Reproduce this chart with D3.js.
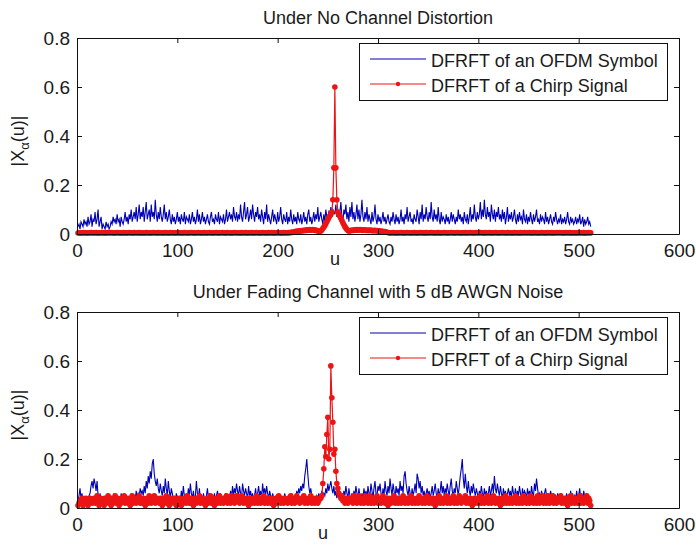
<!DOCTYPE html>
<html>
<head>
<meta charset="utf-8">
<script src="https://cdn.jsdelivr.net/npm/d3@7"></script>
<style>
  body { margin: 0; background: #fff; }
  svg text { font-family: "Liberation Sans", Arial, sans-serif; fill: #1a1a1a; }
</style>
</head>
<body>
<div class="chart"></div>
<script>
// |X_alpha(u)| values, u = 1..512
var topOfdm = [
  0.03,0.04,0.02,0.05,0.04,0.03,0.06,0.04,0.05,0.03,0.07,0.04,0.05,0.08,0.03,0.06,
  0.05,0.09,0.04,0.06,0.10,0.03,0.05,0.07,0.02,0.04,0.03,0.02,0.05,0.03,0.04,0.02,
  0.03,0.05,0.04,0.07,0.05,0.06,0.04,0.08,0.05,0.06,0.03,0.07,0.05,0.04,0.06,0.09,
  0.05,0.07,0.04,0.08,0.06,0.10,0.05,0.07,0.09,0.06,0.11,0.05,0.08,0.12,0.06,0.09,
  0.07,0.11,0.05,0.09,0.13,0.06,0.08,0.10,0.05,0.12,0.07,0.09,0.06,0.14,0.08,0.05,
  0.09,0.06,0.11,0.07,0.05,0.08,0.12,0.06,0.09,0.05,0.07,0.10,0.06,0.04,0.08,0.05,
  0.07,0.04,0.06,0.09,0.05,0.07,0.04,0.08,0.06,0.05,0.09,0.04,0.07,0.06,0.05,0.08,
  0.04,0.06,0.09,0.05,0.07,0.04,0.06,0.10,0.05,0.08,0.04,0.06,0.09,0.05,0.07,0.04,
  0.06,0.08,0.05,0.04,0.07,0.09,0.05,0.06,0.04,0.08,0.06,0.05,0.09,0.04,0.07,0.06,
  0.05,0.08,0.04,0.06,0.10,0.05,0.07,0.09,0.06,0.08,0.05,0.11,0.07,0.06,0.09,0.05,
  0.08,0.06,0.12,0.07,0.05,0.09,0.13,0.06,0.08,0.11,0.05,0.07,0.10,0.06,0.12,0.08,
  0.05,0.09,0.07,0.11,0.06,0.08,0.05,0.10,0.07,0.04,0.09,0.06,0.12,0.05,0.08,0.06,
  0.04,0.07,0.10,0.05,0.08,0.06,0.04,0.09,0.05,0.07,0.11,0.06,0.04,0.08,0.06,0.05,
  0.09,0.04,0.07,0.05,0.10,0.06,0.04,0.08,0.05,0.07,0.04,0.09,0.06,0.05,0.08,0.04,
  0.06,0.09,0.05,0.07,0.04,0.08,0.10,0.05,0.07,0.04,0.06,0.09,0.05,0.08,0.06,0.11,
  0.05,0.07,0.09,0.06,0.04,0.08,0.05,0.10,0.07,0.06,0.09,0.08,0.11,0.07,0.10,0.09,
  0.08,0.12,0.07,0.10,0.06,0.09,0.13,0.07,0.05,0.10,0.08,0.12,0.06,0.09,0.05,0.11,
  0.07,0.13,0.06,0.09,0.05,0.08,0.12,0.06,0.10,0.05,0.08,0.14,0.07,0.05,0.09,0.06,
  0.11,0.05,0.08,0.06,0.04,0.09,0.05,0.07,0.12,0.06,0.04,0.08,0.05,0.07,0.04,0.06,
  0.09,0.05,0.07,0.04,0.06,0.08,0.05,0.04,0.07,0.05,0.09,0.06,0.04,0.08,0.05,0.07,
  0.04,0.06,0.10,0.05,0.07,0.04,0.08,0.06,0.11,0.05,0.07,0.09,0.05,0.06,0.04,0.08,
  0.06,0.05,0.10,0.07,0.04,0.09,0.06,0.12,0.05,0.08,0.06,0.11,0.07,0.05,0.09,0.06,
  0.13,0.07,0.05,0.10,0.06,0.08,0.05,0.11,0.06,0.04,0.09,0.05,0.07,0.06,0.04,0.08,
  0.05,0.07,0.04,0.06,0.09,0.05,0.08,0.06,0.04,0.07,0.05,0.10,0.06,0.08,0.05,0.07,
  0.04,0.09,0.06,0.05,0.08,0.04,0.07,0.11,0.05,0.08,0.06,0.12,0.07,0.05,0.09,0.06,
  0.08,0.13,0.06,0.10,0.07,0.14,0.08,0.06,0.11,0.07,0.09,0.05,0.12,0.08,0.06,0.10,
  0.05,0.09,0.07,0.11,0.06,0.08,0.05,0.10,0.06,0.09,0.04,0.07,0.11,0.05,0.08,0.06,
  0.09,0.05,0.07,0.10,0.06,0.04,0.08,0.05,0.09,0.06,0.07,0.04,0.10,0.06,0.05,0.08,
  0.04,0.07,0.05,0.09,0.06,0.04,0.08,0.05,0.07,0.10,0.05,0.06,0.04,0.08,0.05,0.07,
  0.06,0.04,0.09,0.05,0.07,0.04,0.06,0.08,0.05,0.04,0.07,0.05,0.09,0.06,0.04,0.06,
  0.05,0.08,0.04,0.06,0.05,0.07,0.04,0.06,0.09,0.05,0.04,0.07,0.05,0.06,0.04,0.05,
  0.07,0.04,0.06,0.05,0.08,0.04,0.05,0.07,0.03,0.06,0.04,0.05,0.07,0.04,0.05,0.03
];

var topChirp = [
  0.004,0.005,0.004,0.003,0.005,0.004,0.006,0.004,0.005,0.003,0.004,0.005,0.004,0.006,0.005,0.004,
  0.005,0.004,0.006,0.005,0.003,0.004,0.005,0.004,0.006,0.004,0.005,0.003,0.005,0.004,0.006,0.005,
  0.004,0.006,0.005,0.004,0.003,0.005,0.004,0.006,0.005,0.004,0.005,0.003,0.004,0.006,0.004,0.005,
  0.003,0.005,0.004,0.006,0.004,0.005,0.004,0.003,0.006,0.005,0.004,0.005,0.004,0.006,0.003,0.004,
  0.005,0.004,0.003,0.005,0.006,0.004,0.005,0.004,0.003,0.005,0.004,0.006,0.005,0.004,0.005,0.003,
  0.006,0.004,0.005,0.004,0.005,0.003,0.004,0.006,0.004,0.005,0.003,0.005,0.006,0.004,0.004,0.005,
  0.004,0.003,0.005,0.006,0.004,0.005,0.004,0.005,0.003,0.004,0.006,0.005,0.004,0.003,0.005,0.004,
  0.005,0.006,0.004,0.005,0.003,0.004,0.005,0.004,0.006,0.005,0.004,0.003,0.005,0.004,0.006,0.004,
  0.003,0.005,0.004,0.006,0.005,0.004,0.003,0.005,0.004,0.005,0.006,0.004,0.003,0.005,0.004,0.005,
  0.006,0.004,0.005,0.003,0.004,0.006,0.005,0.004,0.005,0.003,0.004,0.005,0.006,0.004,0.005,0.004,
  0.004,0.005,0.003,0.006,0.004,0.005,0.004,0.006,0.003,0.005,0.004,0.005,0.004,0.006,0.005,0.003,
  0.005,0.004,0.006,0.004,0.005,0.003,0.005,0.004,0.006,0.004,0.005,0.004,0.003,0.005,0.006,0.004,
  0.004,0.006,0.005,0.003,0.004,0.005,0.004,0.006,0.005,0.004,0.005,0.003,0.004,0.006,0.004,0.005,
  0.005,0.004,0.006,0.005,0.007,0.006,0.008,0.007,0.009,0.011,0.010,0.012,0.011,0.013,0.012,0.014,
  0.013,0.015,0.014,0.016,0.015,0.017,0.016,0.018,0.017,0.016,0.018,0.017,0.015,0.016,0.014,0.012,
  0.011,0.010,0.012,0.016,0.022,0.028,0.035,0.042,0.050,0.058,0.066,0.074,0.080,0.090,0.140,0.270,
  0.600,0.270,0.140,0.090,0.080,0.072,0.064,0.055,0.046,0.038,0.030,0.024,0.018,0.014,0.012,0.013,
  0.015,0.014,0.016,0.015,0.017,0.016,0.018,0.017,0.016,0.018,0.017,0.016,0.015,0.017,0.016,0.015,
  0.016,0.014,0.015,0.016,0.014,0.015,0.013,0.014,0.015,0.013,0.014,0.012,0.013,0.011,0.012,0.010,
  0.011,0.009,0.010,0.008,0.007,0.006,0.005,0.004,0.005,0.004,0.006,0.005,0.004,0.003,0.005,0.004,
  0.005,0.004,0.006,0.004,0.005,0.003,0.004,0.005,0.006,0.004,0.005,0.004,0.003,0.005,0.004,0.006,
  0.004,0.005,0.003,0.005,0.004,0.006,0.005,0.004,0.004,0.005,0.003,0.006,0.004,0.005,0.004,0.005,
  0.006,0.004,0.005,0.004,0.003,0.005,0.004,0.006,0.005,0.003,0.004,0.005,0.004,0.006,0.005,0.004,
  0.003,0.005,0.004,0.005,0.006,0.004,0.005,0.003,0.004,0.005,0.006,0.004,0.005,0.004,0.003,0.005,
  0.005,0.004,0.006,0.003,0.004,0.005,0.004,0.006,0.005,0.004,0.003,0.005,0.004,0.006,0.004,0.005,
  0.004,0.006,0.005,0.004,0.005,0.003,0.006,0.004,0.005,0.004,0.006,0.005,0.003,0.004,0.005,0.004,
  0.006,0.005,0.004,0.003,0.005,0.004,0.005,0.006,0.004,0.005,0.004,0.003,0.006,0.005,0.004,0.005,
  0.004,0.003,0.005,0.006,0.004,0.005,0.004,0.005,0.003,0.006,0.004,0.005,0.004,0.006,0.005,0.004,
  0.005,0.004,0.006,0.005,0.003,0.004,0.006,0.004,0.005,0.004,0.005,0.003,0.004,0.005,0.006,0.004,
  0.004,0.005,0.003,0.004,0.006,0.005,0.004,0.005,0.006,0.003,0.004,0.005,0.004,0.006,0.004,0.005,
  0.006,0.004,0.005,0.004,0.003,0.005,0.006,0.004,0.005,0.004,0.006,0.005,0.003,0.004,0.005,0.004,
  0.005,0.003,0.004,0.006,0.005,0.004,0.005,0.004,0.006,0.003,0.005,0.004,0.005,0.006,0.004,0.005
];

var botOfdm = [
  0.03,0.05,0.08,0.04,0.06,0.02,0.05,0.03,0.04,0.02,0.03,0.05,0.06,0.09,0.11,0.08,
  0.12,0.10,0.07,0.11,0.05,0.03,0.06,0.02,0.04,0.03,0.05,0.02,0.04,0.03,0.02,0.04,
  0.03,0.05,0.02,0.04,0.06,0.03,0.02,0.05,0.03,0.04,0.02,0.06,0.03,0.05,0.02,0.04,
  0.03,0.05,0.02,0.04,0.03,0.06,0.04,0.02,0.05,0.03,0.07,0.04,0.06,0.05,0.08,0.06,
  0.07,0.05,0.09,0.06,0.11,0.08,0.13,0.10,0.15,0.12,0.18,0.20,0.14,0.11,0.09,0.12,
  0.08,0.06,0.10,0.07,0.05,0.09,0.06,0.12,0.08,0.05,0.11,0.07,0.04,0.08,0.06,0.03,
  0.05,0.03,0.06,0.04,0.02,0.05,0.03,0.07,0.04,0.09,0.05,0.03,0.06,0.04,0.08,0.05,
  0.10,0.06,0.04,0.07,0.03,0.05,0.11,0.06,0.04,0.08,0.03,0.05,0.02,0.06,0.04,0.03,
  0.05,0.08,0.04,0.06,0.03,0.05,0.02,0.04,0.06,0.03,0.05,0.07,0.04,0.03,0.06,0.04,
  0.02,0.05,0.03,0.06,0.04,0.02,0.05,0.03,0.07,0.04,0.09,0.05,0.08,0.06,0.10,0.07,
  0.05,0.09,0.06,0.04,0.10,0.07,0.05,0.08,0.06,0.04,0.09,0.05,0.07,0.04,0.06,0.03,
  0.05,0.08,0.04,0.06,0.09,0.05,0.07,0.04,0.10,0.06,0.08,0.05,0.09,0.06,0.04,0.07,
  0.05,0.03,0.06,0.04,0.02,0.05,0.03,0.04,0.06,0.03,0.05,0.02,0.04,0.03,0.06,0.04,
  0.03,0.05,0.02,0.04,0.03,0.06,0.04,0.02,0.05,0.03,0.07,0.05,0.08,0.06,0.09,0.07,
  0.10,0.08,0.13,0.16,0.20,0.14,0.09,0.06,0.08,0.05,0.03,0.04,0.02,0.03,0.05,0.04,
  0.06,0.03,0.05,0.07,0.04,0.06,0.05,0.08,0.06,0.10,0.07,0.09,0.11,0.08,0.06,0.09,
  0.05,0.07,0.04,0.06,0.08,0.05,0.03,0.06,0.04,0.07,0.05,0.09,0.06,0.04,0.08,0.05,
  0.03,0.06,0.04,0.07,0.05,0.09,0.06,0.04,0.08,0.05,0.03,0.06,0.04,0.08,0.05,0.07,
  0.04,0.09,0.06,0.05,0.10,0.07,0.04,0.08,0.11,0.06,0.05,0.09,0.07,0.10,0.06,0.04,
  0.08,0.05,0.11,0.07,0.05,0.09,0.06,0.12,0.08,0.05,0.10,0.07,0.04,0.09,0.06,0.08,
  0.05,0.11,0.07,0.09,0.06,0.13,0.15,0.10,0.07,0.05,0.09,0.06,0.04,0.08,0.05,0.07,
  0.10,0.06,0.14,0.12,0.08,0.11,0.06,0.09,0.05,0.07,0.04,0.06,0.08,0.05,0.07,0.04,
  0.06,0.09,0.05,0.07,0.10,0.06,0.04,0.08,0.05,0.07,0.11,0.06,0.09,0.05,0.08,0.06,
  0.10,0.07,0.05,0.09,0.12,0.07,0.05,0.08,0.06,0.11,0.08,0.05,0.09,0.13,0.16,0.20,
  0.12,0.08,0.14,0.09,0.06,0.11,0.07,0.05,0.09,0.06,0.10,0.07,0.05,0.08,0.06,0.04,
  0.07,0.05,0.09,0.06,0.04,0.08,0.05,0.07,0.04,0.06,0.09,0.05,0.07,0.10,0.06,0.13,
  0.08,0.06,0.10,0.07,0.05,0.09,0.06,0.04,0.08,0.05,0.07,0.04,0.06,0.08,0.05,0.07,
  0.04,0.09,0.06,0.05,0.08,0.04,0.07,0.05,0.09,0.06,0.04,0.08,0.05,0.07,0.06,0.04,
  0.08,0.05,0.07,0.04,0.09,0.06,0.05,0.10,0.07,0.12,0.08,0.05,0.06,0.04,0.07,0.05,
  0.04,0.06,0.08,0.05,0.03,0.06,0.04,0.07,0.05,0.03,0.06,0.04,0.05,0.03,0.06,0.04,
  0.05,0.03,0.06,0.04,0.02,0.05,0.03,0.06,0.04,0.05,0.03,0.07,0.04,0.06,0.03,0.05,
  0.04,0.07,0.03,0.05,0.08,0.04,0.06,0.03,0.07,0.05,0.04,0.06,0.03,0.05,0.04,0.02
];

var botChirp = [
  0.01,0.02,0.03,0.02,0.04,0.01,0.03,0.02,0.04,0.03,0.01,0.02,0.04,0.03,0.02,0.03,
  0.04,0.02,0.03,0.05,0.02,0.01,0.03,0.04,0.02,0.03,0.01,0.04,0.02,0.03,0.05,0.02,
  0.03,0.01,0.04,0.02,0.03,0.05,0.02,0.03,0.04,0.01,0.03,0.02,0.04,0.03,0.05,0.02,
  0.04,0.03,0.02,0.04,0.01,0.03,0.05,0.02,0.04,0.03,0.02,0.04,0.03,0.05,0.02,0.03,
  0.02,0.04,0.03,0.01,0.03,0.04,0.02,0.05,0.03,0.02,0.04,0.03,0.05,0.02,0.03,0.04,
  0.03,0.02,0.04,0.03,0.01,0.04,0.02,0.03,0.05,0.02,0.03,0.01,0.04,0.02,0.03,0.04,
  0.02,0.03,0.01,0.04,0.03,0.02,0.04,0.01,0.03,0.02,0.04,0.03,0.02,0.05,0.03,0.02,
  0.04,0.02,0.03,0.01,0.04,0.03,0.02,0.04,0.03,0.05,0.02,0.03,0.04,0.02,0.03,0.01,
  0.03,0.04,0.02,0.03,0.05,0.02,0.04,0.03,0.01,0.03,0.04,0.02,0.03,0.05,0.02,0.04,
  0.03,0.02,0.04,0.03,0.05,0.02,0.03,0.04,0.02,0.05,0.03,0.04,0.02,0.03,0.05,0.03,
  0.04,0.02,0.03,0.05,0.03,0.02,0.04,0.03,0.02,0.04,0.01,0.03,0.04,0.02,0.03,0.04,
  0.02,0.03,0.05,0.02,0.04,0.03,0.02,0.04,0.03,0.05,0.02,0.03,0.04,0.02,0.04,0.03,
  0.02,0.04,0.03,0.01,0.03,0.04,0.02,0.03,0.05,0.03,0.02,0.04,0.03,0.02,0.04,0.03,
  0.03,0.02,0.04,0.03,0.05,0.02,0.03,0.04,0.02,0.03,0.05,0.03,0.04,0.02,0.03,0.04,
  0.03,0.05,0.02,0.04,0.03,0.02,0.04,0.03,0.05,0.02,0.04,0.03,0.02,0.04,0.03,0.02,
  0.03,0.04,0.04,0.05,0.10,0.16,0.25,0.21,0.30,0.37,0.20,0.24,0.58,0.45,0.35,0.22,
  0.24,0.15,0.10,0.08,0.06,0.05,0.04,0.05,0.03,0.04,0.02,0.03,0.04,0.02,0.03,0.04,
  0.03,0.04,0.02,0.05,0.03,0.04,0.02,0.03,0.05,0.04,0.02,0.03,0.04,0.02,0.05,0.03,
  0.04,0.02,0.03,0.05,0.02,0.04,0.03,0.02,0.04,0.03,0.05,0.02,0.03,0.04,0.02,0.03,
  0.05,0.03,0.02,0.04,0.03,0.01,0.04,0.03,0.02,0.04,0.03,0.05,0.02,0.03,0.04,0.02,
  0.03,0.04,0.02,0.03,0.05,0.03,0.02,0.04,0.03,0.02,0.04,0.03,0.05,0.02,0.04,0.03,
  0.02,0.03,0.04,0.02,0.05,0.03,0.04,0.02,0.03,0.04,0.02,0.03,0.05,0.03,0.02,0.04,
  0.03,0.02,0.04,0.03,0.01,0.04,0.02,0.03,0.05,0.02,0.04,0.03,0.02,0.04,0.03,0.05,
  0.02,0.04,0.03,0.02,0.04,0.03,0.05,0.02,0.03,0.04,0.02,0.03,0.05,0.04,0.02,0.03,
  0.04,0.03,0.05,0.02,0.04,0.03,0.02,0.04,0.03,0.01,0.03,0.04,0.02,0.03,0.04,0.02,
  0.03,0.05,0.02,0.04,0.03,0.02,0.04,0.03,0.05,0.02,0.03,0.04,0.02,0.03,0.05,0.03,
  0.02,0.04,0.03,0.02,0.04,0.01,0.03,0.04,0.02,0.03,0.05,0.02,0.04,0.03,0.02,0.04,
  0.03,0.02,0.04,0.03,0.05,0.02,0.04,0.03,0.02,0.04,0.03,0.02,0.05,0.03,0.04,0.02,
  0.04,0.03,0.02,0.05,0.03,0.04,0.02,0.03,0.04,0.02,0.05,0.03,0.02,0.04,0.03,0.05,
  0.02,0.03,0.04,0.02,0.05,0.03,0.02,0.04,0.03,0.05,0.02,0.04,0.03,0.02,0.04,0.03,
  0.03,0.05,0.02,0.04,0.03,0.02,0.04,0.03,0.01,0.04,0.03,0.05,0.02,0.03,0.04,0.02,
  0.03,0.04,0.02,0.03,0.05,0.02,0.04,0.03,0.02,0.04,0.03,0.05,0.02,0.04,0.03,0.01
];

var xTicks = [0, 100, 200, 300, 400, 500, 600];
var yTicks = [0, 0.2, 0.4, 0.6, 0.8];
var titles = ["Under No Channel Distortion", "Under Fading Channel with 5 dB AWGN Noise"];
var legendLabels = ["DFRFT of an OFDM Symbol", "DFRFT of a Chirp Signal"];

var blue = "#0000b4",
    red = "#ec1414";

var svg = d3.select("div.chart").append("svg")
    .attr("width", 696)
    .attr("height", 545);

var panels = [
  {top: 38, bottom: 234, title: titles[0], ofdm: topOfdm, chirp: topChirp, labelX: 335},
  {top: 312, bottom: 508, title: titles[1], ofdm: botOfdm, chirp: botChirp, labelX: 323}
];

panels.forEach(function(p) {
  var x = d3.scaleLinear().domain([0, 600]).range([77, 679]);
  var y = d3.scaleLinear().domain([0, 0.8]).range([p.bottom, p.top]);
  var g = svg.append("g");

  var line = d3.line()
      .x(function(d, i) { return x(i + 1); })
      .y(function(d) { return y(d); });

  g.append("path")
      .datum(p.ofdm)
      .attr("fill", "none")
      .attr("stroke", blue)
      .attr("stroke-width", 1.1)
      .attr("d", line);

  g.append("path")
      .datum(p.chirp)
      .attr("fill", "none")
      .attr("stroke", red)
      .attr("stroke-width", 1.2)
      .attr("d", line);

  g.selectAll(".dot")
      .data(p.chirp)
    .enter().append("circle")
      .attr("class", "dot")
      .attr("fill", red)
      .attr("r", 2.8)
      .attr("cx", function(d, i) { return x(i + 1); })
      .attr("cy", function(d) { return y(d); });

  var fmt = function(d) { return d === 0 ? "0" : d.toFixed(1); };

  // box with inward ticks on all four sides
  var axes = [
    g.append("g").attr("transform", "translate(0," + p.bottom + ")")
        .call(d3.axisBottom(x).tickValues(xTicks).tickSizeInner(-5).tickSizeOuter(0).tickPadding(9.5)),
    g.append("g").attr("transform", "translate(0," + p.top + ")")
        .call(d3.axisTop(x).tickValues(xTicks).tickSizeInner(-5).tickSizeOuter(0).tickFormat("")),
    g.append("g").attr("transform", "translate(77,0)")
        .call(d3.axisLeft(y).tickValues(yTicks).tickSizeInner(-5).tickSizeOuter(0).tickPadding(7).tickFormat(fmt)),
    g.append("g").attr("transform", "translate(679,0)")
        .call(d3.axisRight(y).tickValues(yTicks).tickSizeInner(-5).tickSizeOuter(0).tickFormat(""))
  ];
  axes.forEach(function(a) {
    a.attr("font-size", 19).attr("font-family", null).attr("color", "#111");
  });

  g.append("text")
      .attr("x", 378)
      .attr("y", p.top - 14)
      .attr("text-anchor", "middle")
      .attr("font-size", 18)
      .text(p.title);

  g.append("text")
      .attr("x", p.labelX)
      .attr("y", p.bottom + 31)
      .attr("text-anchor", "middle")
      .attr("font-size", 18)
      .text("u");

  var yl = g.append("text")
      .attr("transform", "translate(24," + ((p.top + p.bottom) / 2 + 5) + ") rotate(-90)")
      .attr("text-anchor", "middle")
      .attr("font-size", 18);
  yl.append("tspan").text("|X");
  yl.append("tspan").attr("dy", 5).attr("font-size", 13).text("α");
  yl.append("tspan").attr("dy", -5).text("(u)|");

  // legend
  var lg = g.append("g");
  lg.append("rect")
      .attr("x", 359.5).attr("y", p.top + 5.5)
      .attr("width", 308).attr("height", 57)
      .attr("fill", "#fff")
      .attr("stroke", "#111");
  lg.append("line")
      .attr("x1", 370).attr("x2", 426)
      .attr("y1", p.top + 21).attr("y2", p.top + 21)
      .attr("stroke", blue);
  lg.append("line")
      .attr("x1", 370).attr("x2", 426)
      .attr("y1", p.top + 46).attr("y2", p.top + 46)
      .attr("stroke", red).attr("stroke-width", 1.2);
  lg.append("circle")
      .attr("cx", 398).attr("cy", p.top + 46)
      .attr("r", 2.2).attr("fill", red);
  lg.selectAll(".lab")
      .data(legendLabels)
    .enter().append("text")
      .attr("class", "lab")
      .attr("x", 431)
      .attr("y", function(d, i) { return p.top + 29 + i * 25; })
      .attr("font-size", 18)
      .text(function(d) { return d; });
});
</script>
</body>
</html>
